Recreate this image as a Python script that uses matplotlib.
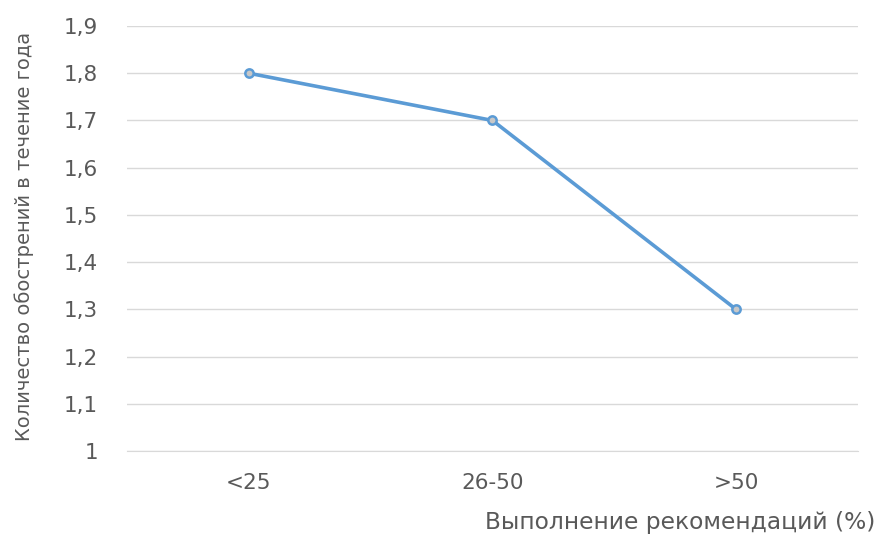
import numpy as np
import matplotlib.pyplot as plt

# Exacerbation frequency vs. share of recommendations followed
categories = ["<25", "26-50", ">50"]
exacerbations = [1.8, 1.7, 1.3]
y_ticks = [1.0, 1.1, 1.2, 1.3, 1.4, 1.5, 1.6, 1.7, 1.8, 1.9]

text_color = "#595959"
line_color = "#5B9BD5"
grid_color = "#D9D9D9"

plt.rcParams['font.family'] = ['DejaVu Sans']

fig = plt.figure(figsize=(8.79, 5.37), dpi=100)
ax = fig.add_axes([0.1445, 0.160, 0.8315, 0.7916])

x = np.arange(len(categories))
ax.plot(x, exacerbations, color=line_color, linewidth=2.6,
        marker="o", markersize=6, markerfacecolor="#C8C8C8",
        markeredgecolor=line_color, markeredgewidth=1.8, zorder=3)

ax.set_xlim(-0.5, len(categories) - 0.5)
ax.set_ylim(1.0, 1.9)
ax.set_xticks(x)
ax.set_xticklabels(categories)
ax.set_yticks(y_ticks)
ax.set_yticklabels([f"{v:g}".replace(".", ",") for v in y_ticks])

ax.grid(axis="y", color=grid_color, linewidth=1)
ax.set_axisbelow(True)
for side in ["top", "right", "left"]:
    ax.spines[side].set_visible(False)
ax.spines["bottom"].set_color(grid_color)
ax.tick_params(length=0, colors=text_color, labelsize=15.5)
ax.tick_params(axis="x", pad=16)
ax.tick_params(axis="y", pad=21)

fig.text(0.027, 0.559, "Количество обострений в течение года", rotation=90,
         ha="center", va="center", fontsize=14, color=text_color)
fig.text(0.996, 0.006, "Выполнение рекомендаций (%)", ha="right", va="bottom",
         fontsize=16.8, color=text_color)

fig.savefig("out.png", dpi=100)
